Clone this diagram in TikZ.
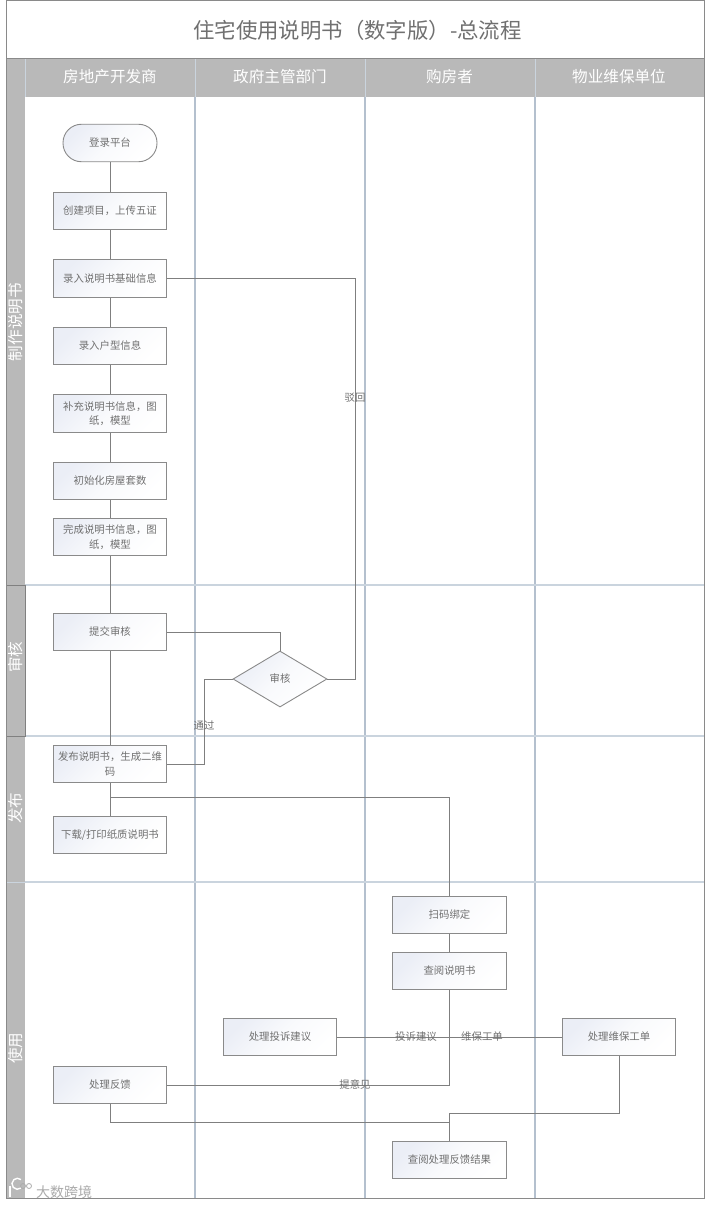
\documentclass[tikz,border=0pt]{standalone}
\usepackage{fontspec}
\setmainfont{Noto Sans CJK SC}
\usetikzlibrary{shapes.geometric}
\definecolor{linec}{HTML}{7F7F7F}
\definecolor{boxc}{HTML}{8A8A8A}
\definecolor{textc}{HTML}{707070}
\definecolor{bandc}{HTML}{B9B9B9}
\definecolor{gridc}{HTML}{B4C0CE}
\definecolor{rowc}{HTML}{CAD4DE}
\definecolor{tintc}{HTML}{EBEEF6}
\definecolor{markc}{HTML}{ABABAB}
\tikzset{
  x=1pt,y=-1pt,
  boxfill/.style={top color=tintc,bottom color=white,middle color=white!70!tintc,shading angle=45},
  proc/.style={draw=boxc,line width=0.9pt,boxfill,minimum width=113.5pt,minimum height=37.5pt,inner sep=0pt,align=center,text=textc,font=\fontsize{10.4}{14.5}\selectfont},
  term/.style={proc,minimum width=94pt,rounded corners=18.5pt},
  dec/.style={diamond,draw=boxc,line width=0.9pt,boxfill,minimum width=94pt,minimum height=56pt,aspect=1.68,inner sep=0pt,align=center,text=textc,font=\fontsize{10.4}{14.5}\selectfont},
  conn/.style={draw=linec,line width=0.9pt},
  lab/.style={text=textc,font=\fontsize{10.4}{12}\selectfont,inner sep=0pt},
  colhead/.style={text=white,font=\fontsize{15.6}{18}\selectfont,inner sep=0pt},
  rowhead/.style={text=white,font=\fontsize{15.6}{18}\selectfont,inner sep=0pt,rotate=90},
}
\begin{document}
\begin{tikzpicture}
\useasboundingbox (0,0) rectangle (710,1206);
\fill[white] (0,0) rectangle (710,1206);
% frame bands
\fill[bandc] (6,58) rectangle (704,97);
\fill[bandc] (6,58) rectangle (25,1198);
% grid
\foreach \cx in {195,365,535} {
  \draw[gridc,line width=1.1pt] (\cx,97) -- (\cx,1198);
  \draw[rowc,line width=0.7pt] (\cx,58) -- (\cx,97);
}
\draw[rowc,line width=0.7pt] (25,58) -- (25,97);
\foreach \ry in {585,736,882} \draw[rowc,line width=1.1pt] (25,\ry) -- (704,\ry);
\draw[rowc,line width=0.7pt] (6,882) -- (25,882);
\draw[gray,line width=0.9pt] (6,585) rectangle (25,736);
\draw[boxc,line width=1pt] (6,1) rectangle (704,1198);
\draw[boxc,line width=0.6pt] (6,58) -- (704,58);
% title
\node[text=textc,font=\fontsize{21.4}{26}\selectfont,inner sep=0pt] (title) at (357.5,30) {住宅使用说明书（数字版）-总流程};
% column heads
\node[colhead] (h1) at (110,77) {房地产开发商};
\node[colhead] (h2) at (280,77) {政府主管部门};
\node[colhead] (h3) at (449.5,77) {购房者};
\node[colhead] (h4) at (619,77) {物业维保单位};
% row heads
\node[rowhead] (r1) at (15.5,322) {制作说明书};
\node[rowhead] (r2) at (15.5,657) {审核};
\node[rowhead] (r3) at (15.5,808) {发布};
\node[rowhead] (r4) at (15.5,1048) {使用};
% process nodes
\node[term] (login) at (110,143) {登录平台};
\node[proc] (create) at (110,211) {创建项目，上传五证};
\node[proc] (basic) at (110,278.5) {录入说明书基础信息};
\node[proc] (house) at (110,346) {录入户型信息};
\node[proc] (extra) at (110,413.5) {补充说明书信息，图\\纸，模型};
\node[proc] (init) at (110,481) {初始化房屋套数};
\node[proc] (done) at (110,537) {完成说明书信息，图\\纸，模型};
\node[proc] (submit) at (110,632) {提交审核};
\node[dec] (review) at (280,679) {审核};
\node[proc] (publish) at (110,764) {发布说明书，生成二维\\码};
\node[proc] (down) at (110,835) {下载/打印纸质说明书};
\node[proc] (scan) at (449.5,915) {扫码绑定};
\node[proc] (read) at (449.5,971) {查阅说明书};
\node[proc] (complain) at (280,1037) {处理投诉建议};
\node[proc] (repair) at (619,1037) {处理维保工单};
\node[proc] (feedback) at (110,1085) {处理反馈};
\node[proc] (result) at (449.5,1160) {查阅处理反馈结果};
% connectors
\coordinate (jc) at (449.5,1037);
\coordinate (rejx) at (355,679);
\draw[conn] (login) -- (create);
\draw[conn] (create) -- (basic);
\draw[conn] (basic) -- (house);
\draw[conn] (house) -- (extra);
\draw[conn] (extra) -- (init);
\draw[conn] (init) -- (done);
\draw[conn] (done) -- (submit);
\draw[conn] (submit) -- (publish);
\draw[conn] (publish) -- (down);
\draw[conn] (basic.east) -| (rejx) -- (review.east);
\draw[conn] (submit.east) -| (review.north);
\draw[conn] (review.west) -- (204,679) |- (publish.east);
\draw[conn] (publish.south) |- (449.5,797) -- (scan.north);
\draw[conn] (scan) -- (read);
\draw[conn] (read.south) |- (feedback.east);
\draw[conn] (complain.east) -- (jc);
\draw[conn] (jc) -- (repair.west);
\draw[conn] (feedback.south) |- (449.5,1122) -- (result.north);
\draw[conn] (repair.south) |- (449.5,1113) -- (result.north);
% labels
\node[lab] (l1) at (355,398) {驳回};
\node[lab] (l2) at (204,726) {通过};
\node[lab] (l3) at (416,1037) {投诉建议};
\node[lab] (l4) at (482,1037) {维保工单};
\node[lab] (l5) at (355,1084) {提意见};
% watermark
\node[text=markc,font=\fontsize{14}{16}\selectfont,inner sep=0pt,anchor=west] (wm) at (36,1192) {大数跨境};
\draw[white,line width=1.4pt] (10,1186) -- (10,1197);
\draw[white,line width=1.4pt] (21,1188) arc (50:310:5.5 and 5.5);
\draw[markc,line width=0.8pt] (23,1186) circle (2.5pt);
\draw[markc,line width=0.8pt] (29,1186) circle (2.5pt);
\end{tikzpicture}
\end{document}
